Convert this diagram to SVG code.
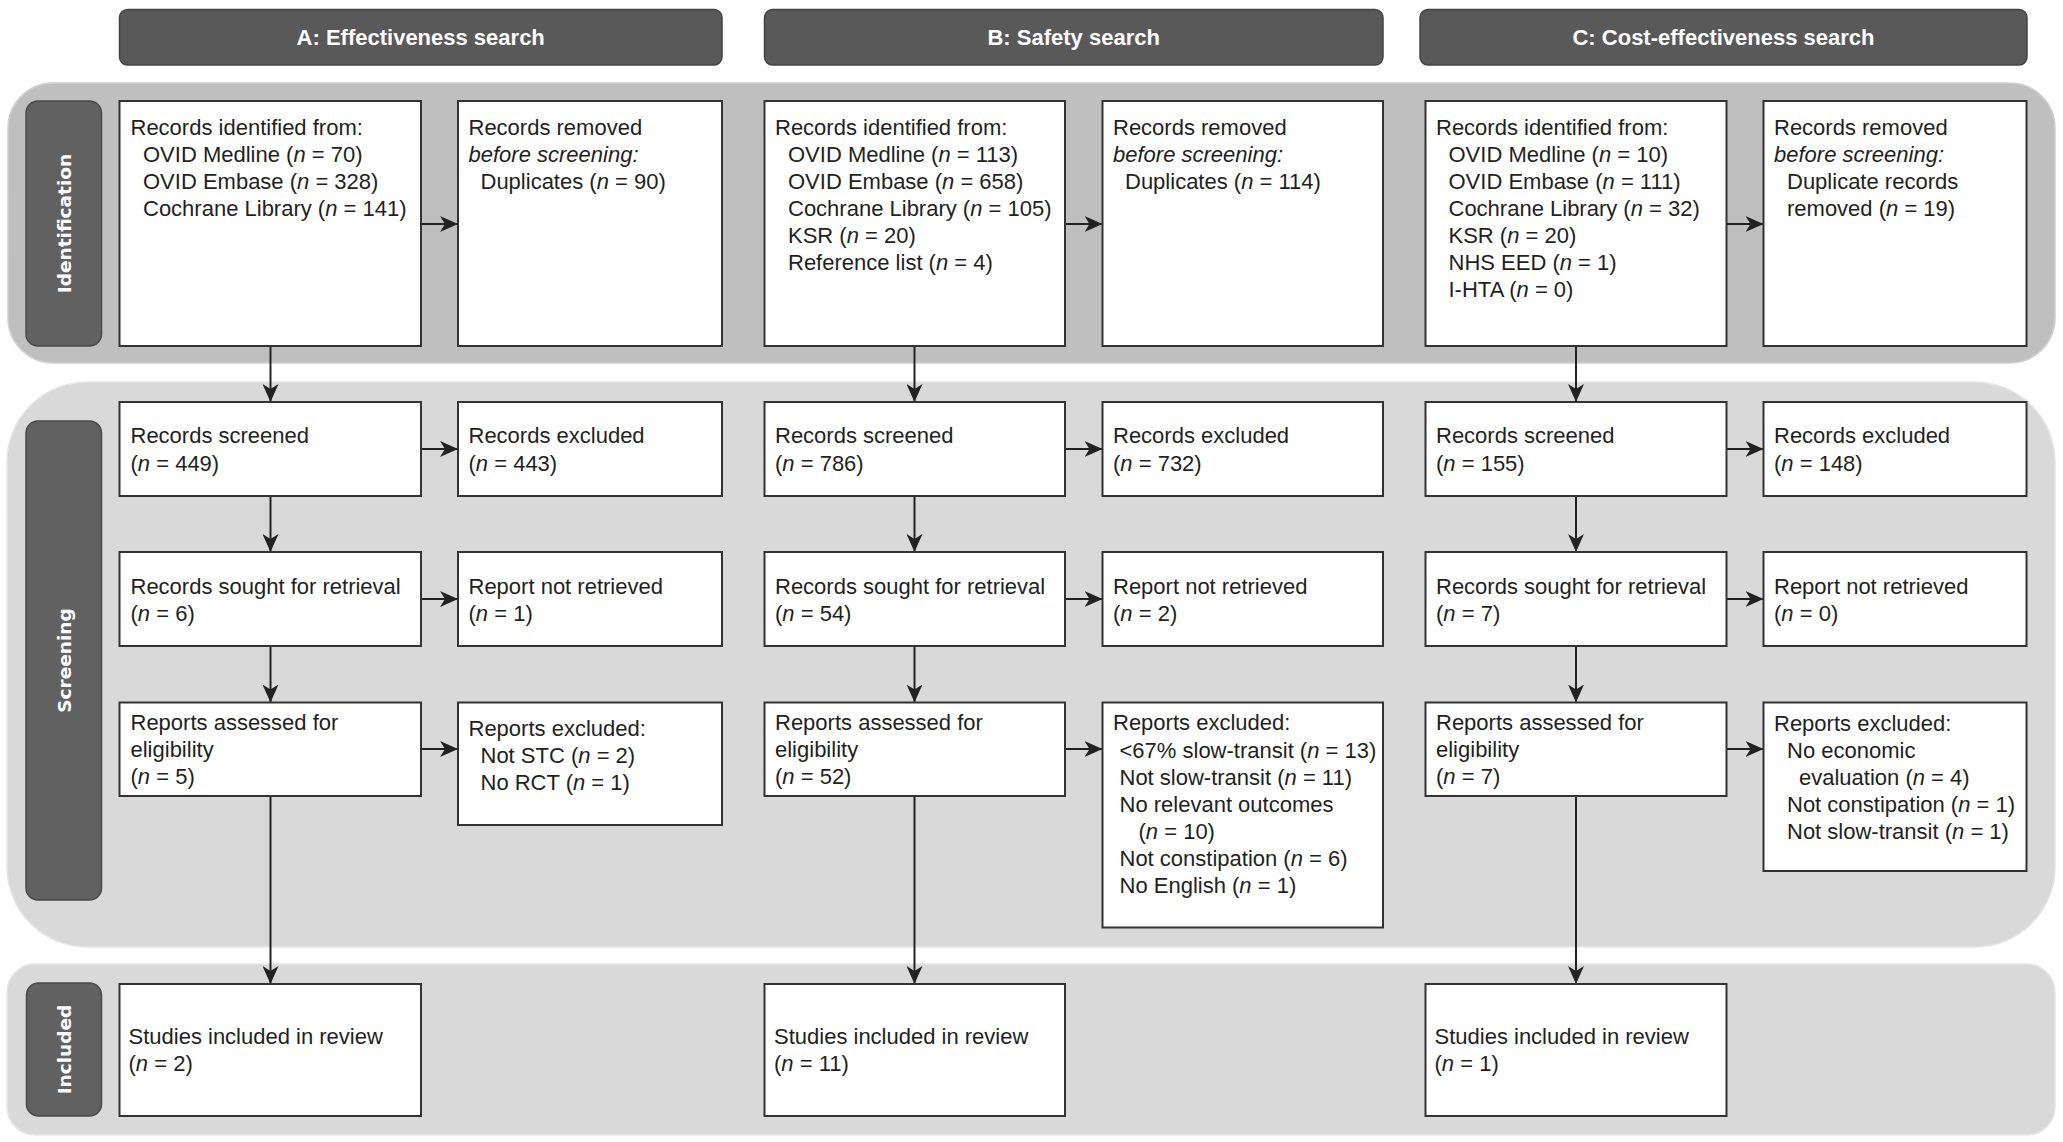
<svg xmlns="http://www.w3.org/2000/svg" width="2063" height="1142" viewBox="0 0 2063 1142">
<style>
.t{font-family:"Liberation Sans",Arial,sans-serif;font-size:22px;fill:#231f20}
.i{font-style:italic}
.hd rect{fill:#595959;stroke:#444;stroke-width:1.5}
.hd text{font-family:"Liberation Sans",Arial,sans-serif;font-size:22px;font-weight:bold;fill:#fff;text-anchor:middle}
.lb rect{fill:#616161;stroke:#4a4a4a;stroke-width:1.5}
.lb text{font-family:"DejaVu Sans",Verdana,sans-serif;font-size:18.5px;font-weight:bold;fill:#fff;text-anchor:middle}
.box{fill:#fff;stroke:#333;stroke-width:2}
.cn{fill:none;stroke:#222;stroke-width:2;marker-end:url(#ah)}
</style>
<defs>
<marker id="ah" viewBox="0 0 18 16" markerWidth="18" markerHeight="16" refX="18" refY="8" orient="auto" markerUnits="userSpaceOnUse">
<path d="M0,0 L18,8 L0,16 L5,8 Z" fill="#222"/>
</marker>
</defs>
<rect width="2063" height="1142" fill="#fff"/>
<g id="bands">
<rect x="8" y="83" width="2047" height="280" rx="45" fill="#bfbfbf" stroke="#d0d0d0" stroke-width="1.5"/>
<rect x="7" y="382" width="2048" height="565" rx="80" fill="#d9d9d9" stroke="#e6e6e6" stroke-width="1.5"/>
<rect x="7" y="964" width="2048" height="171" rx="28" fill="#d9d9d9" stroke="#e6e6e6" stroke-width="1.5"/>
</g>
<g id="stage-labels" class="lb">
<g id="label-identification"><rect x="26" y="101" width="75.5" height="245" rx="12"/><text transform="translate(70.5,223.5) rotate(-90)">Identification</text></g>
<g id="label-screening"><rect x="26" y="421" width="75.5" height="479" rx="12"/><text transform="translate(70.5,660.5) rotate(-90)">Screening</text></g>
<g id="label-included"><rect x="26.5" y="983" width="75" height="133" rx="12"/><text transform="translate(70.5,1049.5) rotate(-90)">Included</text></g>
</g>
<g id="headers" class="hd">
<g id="header-a"><rect x="119.5" y="9.5" width="602.5" height="55.5" rx="8"/><text x="420.7" y="45">A: Effectiveness search</text></g>
<g id="header-b"><rect x="764.5" y="9.5" width="618.5" height="55.5" rx="8"/><text x="1073.7" y="45">B: Safety search</text></g>
<g id="header-c"><rect x="1420" y="9.5" width="607" height="55.5" rx="8"/><text x="1723.5" y="45">C: Cost-effectiveness search</text></g>
</g>
<g id="connectors">
<path class="cn" d="M270.5,346 V402"/>
<path class="cn" d="M270.5,496 V552"/>
<path class="cn" d="M270.5,646 V702.5"/>
<path class="cn" d="M270.5,796 V984"/>
<path class="cn" d="M914.5,346 V402"/>
<path class="cn" d="M914.5,496 V552"/>
<path class="cn" d="M914.5,646 V702.5"/>
<path class="cn" d="M914.5,796 V984"/>
<path class="cn" d="M1576,346 V402"/>
<path class="cn" d="M1576,496 V552"/>
<path class="cn" d="M1576,646 V702.5"/>
<path class="cn" d="M1576,796 V984"/>
<path class="cn" d="M421,224 H458"/>
<path class="cn" d="M421,449 H458"/>
<path class="cn" d="M421,599 H458"/>
<path class="cn" d="M421,749 H458"/>
<path class="cn" d="M1065,224 H1102.5"/>
<path class="cn" d="M1065,449 H1102.5"/>
<path class="cn" d="M1065,599 H1102.5"/>
<path class="cn" d="M1065,749 H1102.5"/>
<path class="cn" d="M1726.5,224 H1763.5"/>
<path class="cn" d="M1726.5,449 H1763.5"/>
<path class="cn" d="M1726.5,599 H1763.5"/>
<path class="cn" d="M1726.5,749 H1763.5"/>
</g>
<!-- Column A -->
<g id="a-identified"><rect class="box" x="119.5" y="101" width="301.5" height="245"/>
<text class="t"><tspan x="130.5" y="135">Records identified from:</tspan><tspan x="143" y="162">OVID Medline (<tspan class="i">n</tspan> = 70)</tspan><tspan x="143" y="189">OVID Embase (<tspan class="i">n</tspan> = 328)</tspan><tspan x="143" y="216">Cochrane Library (<tspan class="i">n</tspan> = 141)</tspan></text></g>
<g id="a-removed"><rect class="box" x="458" y="101" width="264" height="245"/>
<text class="t"><tspan x="468.5" y="135">Records removed</tspan><tspan x="468.5" y="162" class="i">before screening:</tspan><tspan x="480.5" y="189">Duplicates (<tspan class="i">n</tspan> = 90)</tspan></text></g>
<g id="a-screened"><rect class="box" x="119.5" y="402" width="301.5" height="94"/>
<text class="t"><tspan x="130.5" y="443">Records screened</tspan><tspan x="130.5" y="470.5">(<tspan class="i">n</tspan> = 449)</tspan></text></g>
<g id="a-excluded"><rect class="box" x="458" y="402" width="264" height="94"/>
<text class="t"><tspan x="468.5" y="443">Records excluded</tspan><tspan x="468.5" y="470.5">(<tspan class="i">n</tspan> = 443)</tspan></text></g>
<g id="a-sought"><rect class="box" x="119.5" y="552" width="301.5" height="94"/>
<text class="t"><tspan x="130.5" y="593.5">Records sought for retrieval</tspan><tspan x="130.5" y="620.5">(<tspan class="i">n</tspan> = 6)</tspan></text></g>
<g id="a-not-retrieved"><rect class="box" x="458" y="552" width="264" height="94"/>
<text class="t"><tspan x="468.5" y="593.5">Report not retrieved</tspan><tspan x="468.5" y="620.5">(<tspan class="i">n</tspan> = 1)</tspan></text></g>
<g id="a-assessed"><rect class="box" x="119.5" y="702.5" width="301.5" height="93.5"/>
<text class="t"><tspan x="130.5" y="730">Reports assessed for</tspan><tspan x="130.5" y="757">eligibility</tspan><tspan x="130.5" y="784">(<tspan class="i">n</tspan> = 5)</tspan></text></g>
<g id="a-reports-excluded"><rect class="box" x="458" y="702.5" width="264" height="122.5"/>
<text class="t"><tspan x="468.5" y="736">Reports excluded:</tspan><tspan x="480.5" y="763">Not STC (<tspan class="i">n</tspan> = 2)</tspan><tspan x="480.5" y="790">No RCT (<tspan class="i">n</tspan> = 1)</tspan></text></g>
<g id="a-included"><rect class="box" x="119.5" y="984" width="301.5" height="132"/>
<text class="t"><tspan x="128.5" y="1043.5">Studies included in review</tspan><tspan x="128.5" y="1070.5">(<tspan class="i">n</tspan> = 2)</tspan></text></g>
<!-- Column B -->
<g id="b-identified"><rect class="box" x="764.5" y="101" width="300.5" height="245"/>
<text class="t"><tspan x="775" y="135">Records identified from:</tspan><tspan x="788" y="162">OVID Medline (<tspan class="i">n</tspan> = 113)</tspan><tspan x="788" y="189">OVID Embase (<tspan class="i">n</tspan> = 658)</tspan><tspan x="788" y="216">Cochrane Library (<tspan class="i">n</tspan> = 105)</tspan><tspan x="788" y="243">KSR (<tspan class="i">n</tspan> = 20)</tspan><tspan x="788" y="270">Reference list (<tspan class="i">n</tspan> = 4)</tspan></text></g>
<g id="b-removed"><rect class="box" x="1102.5" y="101" width="280.5" height="245"/>
<text class="t"><tspan x="1113" y="135">Records removed</tspan><tspan x="1113" y="162" class="i">before screening:</tspan><tspan x="1125" y="189">Duplicates (<tspan class="i">n</tspan> = 114)</tspan></text></g>
<g id="b-screened"><rect class="box" x="764.5" y="402" width="300.5" height="94"/>
<text class="t"><tspan x="775" y="443">Records screened</tspan><tspan x="775" y="470.5">(<tspan class="i">n</tspan> = 786)</tspan></text></g>
<g id="b-excluded"><rect class="box" x="1102.5" y="402" width="280.5" height="94"/>
<text class="t"><tspan x="1113" y="443">Records excluded</tspan><tspan x="1113" y="470.5">(<tspan class="i">n</tspan> = 732)</tspan></text></g>
<g id="b-sought"><rect class="box" x="764.5" y="552" width="300.5" height="94"/>
<text class="t"><tspan x="775" y="593.5">Records sought for retrieval</tspan><tspan x="775" y="620.5">(<tspan class="i">n</tspan> = 54)</tspan></text></g>
<g id="b-not-retrieved"><rect class="box" x="1102.5" y="552" width="280.5" height="94"/>
<text class="t"><tspan x="1113" y="593.5">Report not retrieved</tspan><tspan x="1113" y="620.5">(<tspan class="i">n</tspan> = 2)</tspan></text></g>
<g id="b-assessed"><rect class="box" x="764.5" y="702.5" width="300.5" height="93.5"/>
<text class="t"><tspan x="775" y="730">Reports assessed for</tspan><tspan x="775" y="757">eligibility</tspan><tspan x="775" y="784">(<tspan class="i">n</tspan> = 52)</tspan></text></g>
<g id="b-reports-excluded"><rect class="box" x="1102.5" y="702.5" width="280.5" height="225"/>
<text class="t"><tspan x="1113" y="730">Reports excluded:</tspan><tspan x="1119.5" y="757.5">&lt;67% slow-transit (<tspan class="i">n</tspan> = 13)</tspan><tspan x="1119.5" y="784.5">Not slow-transit (<tspan class="i">n</tspan> = 11)</tspan><tspan x="1119.5" y="811.5">No relevant outcomes</tspan><tspan x="1138.5" y="838.5">(<tspan class="i">n</tspan> = 10)</tspan><tspan x="1119.5" y="865.5">Not constipation (<tspan class="i">n</tspan> = 6)</tspan><tspan x="1119.5" y="892.5">No English (<tspan class="i">n</tspan> = 1)</tspan></text></g>
<g id="b-included"><rect class="box" x="764.5" y="984" width="300.5" height="132"/>
<text class="t"><tspan x="774" y="1043.5">Studies included in review</tspan><tspan x="774" y="1070.5">(<tspan class="i">n</tspan> = 11)</tspan></text></g>
<!-- Column C -->
<g id="c-identified"><rect class="box" x="1425.5" y="101" width="301" height="245"/>
<text class="t"><tspan x="1436" y="135">Records identified from:</tspan><tspan x="1448.5" y="162">OVID Medline (<tspan class="i">n</tspan> = 10)</tspan><tspan x="1448.5" y="189">OVID Embase (<tspan class="i">n</tspan> = 111)</tspan><tspan x="1448.5" y="216">Cochrane Library (<tspan class="i">n</tspan> = 32)</tspan><tspan x="1448.5" y="243">KSR (<tspan class="i">n</tspan> = 20)</tspan><tspan x="1448.5" y="270">NHS EED (<tspan class="i">n</tspan> = 1)</tspan><tspan x="1448.5" y="297">I-HTA (<tspan class="i">n</tspan> = 0)</tspan></text></g>
<g id="c-removed"><rect class="box" x="1763.5" y="101" width="263" height="245"/>
<text class="t"><tspan x="1774" y="135">Records removed</tspan><tspan x="1774" y="162" class="i">before screening:</tspan><tspan x="1787" y="189">Duplicate records</tspan><tspan x="1787" y="216">removed (<tspan class="i">n</tspan> = 19)</tspan></text></g>
<g id="c-screened"><rect class="box" x="1425.5" y="402" width="301" height="94"/>
<text class="t"><tspan x="1436" y="443">Records screened</tspan><tspan x="1436" y="470.5">(<tspan class="i">n</tspan> = 155)</tspan></text></g>
<g id="c-excluded"><rect class="box" x="1763.5" y="402" width="263" height="94"/>
<text class="t"><tspan x="1774" y="443">Records excluded</tspan><tspan x="1774" y="470.5">(<tspan class="i">n</tspan> = 148)</tspan></text></g>
<g id="c-sought"><rect class="box" x="1425.5" y="552" width="301" height="94"/>
<text class="t"><tspan x="1436" y="593.5">Records sought for retrieval</tspan><tspan x="1436" y="620.5">(<tspan class="i">n</tspan> = 7)</tspan></text></g>
<g id="c-not-retrieved"><rect class="box" x="1763.5" y="552" width="263" height="94"/>
<text class="t"><tspan x="1774" y="593.5">Report not retrieved</tspan><tspan x="1774" y="620.5">(<tspan class="i">n</tspan> = 0)</tspan></text></g>
<g id="c-assessed"><rect class="box" x="1425.5" y="702.5" width="301" height="93.5"/>
<text class="t"><tspan x="1436" y="730">Reports assessed for</tspan><tspan x="1436" y="757">eligibility</tspan><tspan x="1436" y="784">(<tspan class="i">n</tspan> = 7)</tspan></text></g>
<g id="c-reports-excluded"><rect class="box" x="1763.5" y="702.5" width="263" height="168.5"/>
<text class="t"><tspan x="1774" y="731">Reports excluded:</tspan><tspan x="1787" y="758">No economic</tspan><tspan x="1799" y="785">evaluation (<tspan class="i">n</tspan> = 4)</tspan><tspan x="1787" y="812">Not constipation (<tspan class="i">n</tspan> = 1)</tspan><tspan x="1787" y="839">Not slow-transit (<tspan class="i">n</tspan> = 1)</tspan></text></g>
<g id="c-included"><rect class="box" x="1425.5" y="984" width="301" height="132"/>
<text class="t"><tspan x="1434.5" y="1043.5">Studies included in review</tspan><tspan x="1434.5" y="1070.5">(<tspan class="i">n</tspan> = 1)</tspan></text></g>
</svg>
